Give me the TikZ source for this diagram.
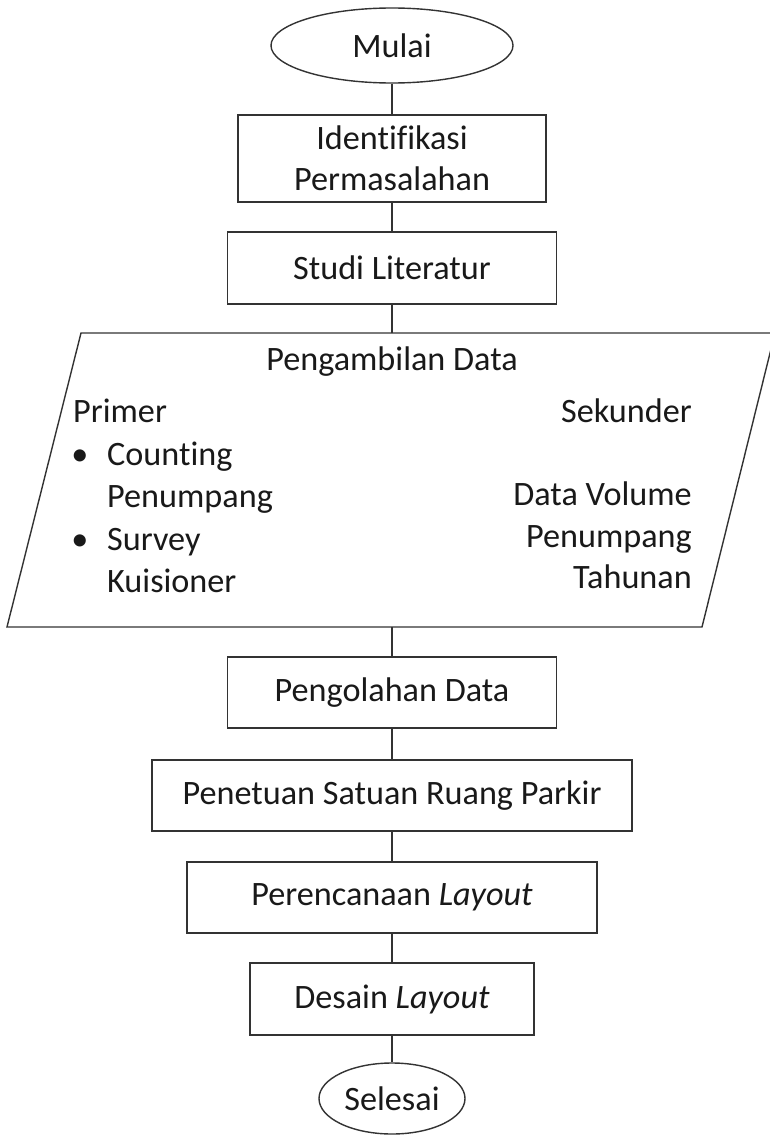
\documentclass[tikz,border=0pt]{standalone}
\usepackage{fontspec}
\setmainfont{Carlito}[Ligatures=NoCommon]
\usetikzlibrary{shapes.geometric}
\begin{document}
\begin{tikzpicture}[x=1pt,y=-1pt,
  every node/.style={font=\fontsize{34.2}{41}\selectfont, text=black!90},
  ln/.style={draw=black!80, line width=1.4pt},
  procbox/.style={ln, rectangle, inner sep=0pt, fill=white},
  term/.style={ln, ellipse, inner sep=0pt, fill=white},
  txt/.style={inner sep=0pt}
]
\useasboundingbox (0,0) rectangle (770,1135);
\clip (0,0) rectangle (770,1135);
\fill[white] (0,0) rectangle (770,1135);

\node[term, minimum width=242pt, minimum height=75pt] (mulai) at (392,45.5) {Mulai};
\node[procbox, minimum width=308pt, minimum height=87pt, align=center] (ident) at (392,158.5) {Identifikasi\\Permasalahan};
\node[procbox, minimum width=329pt, minimum height=72pt] (studi) at (392,268) {Studi Literatur};

% parallelogram (data input)
\coordinate (ptl) at (81,333);
\coordinate (ptr) at (775,333);
\coordinate (pbr) at (702,627);
\coordinate (pbl) at (7,627);
\coordinate (dtop) at (392,333);
\coordinate (dbot) at (392,627);
\draw[ln, line join=miter] (ptl) -- (ptr) -- (pbr) -- (pbl) -- cycle;

\node[txt, anchor=base] (pd) at (392,370) {Pengambilan Data};
\node[txt, anchor=base west] (primer) at (73,422) {Primer};
\node[txt, anchor=base] (b1) at (80,465) {•};
\node[txt, anchor=base west] (counting) at (107,465) {Counting};
\node[txt, anchor=base west] (penum1) at (107,507) {Penumpang};
\node[txt, anchor=base] (b2) at (80,550) {•};
\node[txt, anchor=base west] (survey) at (107,550) {Survey};
\node[txt, anchor=base west] (kuis) at (107,592) {Kuisioner};
\node[txt, anchor=base east] (sekunder) at (692,422) {Sekunder};
\node[txt, anchor=base east] (datavol) at (692,505) {Data Volume};
\node[txt, anchor=base east] (penum2) at (692,547) {Penumpang};
\node[txt, anchor=base east] (tahunan) at (692,588) {Tahunan};

\node[procbox, minimum width=329pt, minimum height=71pt] (olah) at (392,692.5) {Pengolahan Data};
\node[procbox, minimum width=480pt, minimum height=71pt] (srp) at (392,795.5) {Penetuan Satuan Ruang Parkir};
\node[procbox, minimum width=410pt, minimum height=71pt] (renc) at (392,897.5) {Perencanaan \textit{Layout}};
\node[procbox, minimum width=284pt, minimum height=72pt] (desain) at (392,999) {Desain \textit{Layout}};
\node[term, minimum width=146pt, minimum height=71pt] (selesai) at (392,1098.5) {Selesai};

\draw[ln] (mulai.south) -- (ident.north);
\draw[ln] (ident.south) -- (studi.north);
\draw[ln] (studi.south) -- (dtop);
\draw[ln] (dbot) -- (olah.north);
\draw[ln] (olah.south) -- (srp.north);
\draw[ln] (srp.south) -- (renc.north);
\draw[ln] (renc.south) -- (desain.north);
\draw[ln] (desain.south) -- (selesai.north);
\end{tikzpicture}
\end{document}
